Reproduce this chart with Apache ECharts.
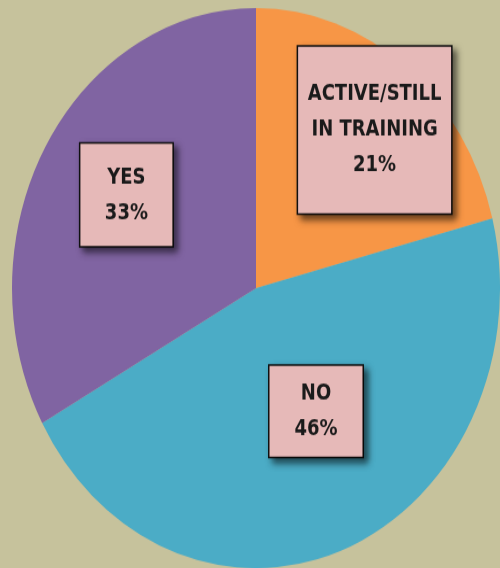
<!DOCTYPE html>
<html>
<head>
<meta charset="utf-8">
<script src="https://cdn.jsdelivr.net/npm/echarts@6/dist/echarts.min.js"></script>
<style>
html,body{margin:0;padding:0;background:#C6C29C;overflow:hidden;}
#wrap{width:500px;height:568px;overflow:hidden;position:relative;}
#chart{width:500px;height:495px;transform:scaleY(1.148);transform-origin:0 0;}
</style>
</head>
<body>
<div id="wrap"><div id="chart"></div></div>
<script>
var categories = ['ACTIVE/STILL\nIN TRAINING', 'NO', 'YES'];
var values = [21, 46, 33];
var colors = ['#F79646', '#4BACC6', '#8064A2'];
// label box layout (offset from default inside position, box width, vertical padding)
var labelOffsets = [[42, -39], [14, -9], [-22, -17.5]];
var labelWidths = [153, 93, 92];
var labelPads = [26, 8.5, 13.5];

var chart = echarts.init(document.getElementById('chart'), null, {renderer: 'canvas'});
var data = categories.map(function (c, i) {
  return {
    name: c,
    value: values[i],
    itemStyle: {color: colors[i]},
    label: {
      offset: labelOffsets[i],
      width: labelWidths[i],
      padding: [labelPads[i], 0]
    }
  };
});
chart.setOption({
  backgroundColor: '#C6C29C',
  animation: false,
  series: [{
    type: 'pie',
    center: [256, 251],
    radius: [0, 244],
    startAngle: 90,
    clockwise: true,
    avoidLabelOverlap: false,
    data: data,
    itemStyle: {borderWidth: 0},
    label: {
      show: true,
      position: 'inside',
      formatter: function (p) { return p.name + '\n' + p.value + '%'; },
      color: '#1a1a1a',
      fontFamily: "'DejaVu Sans Condensed', 'Liberation Sans Narrow', 'Roboto Condensed', 'DejaVu Sans', sans-serif",
      fontWeight: 'bold',
      fontSize: 20,
      lineHeight: 31,
      align: 'center',
      backgroundColor: '#E6B9B8',
      borderColor: '#111',
      borderWidth: 1.5,
      shadowColor: 'rgba(0,0,0,0.55)',
      shadowBlur: 6,
      shadowOffsetX: 4,
      shadowOffsetY: 4
    },
    labelLine: {show: false},
    emphasis: {disabled: true}
  }]
});
</script>
</body>
</html>
